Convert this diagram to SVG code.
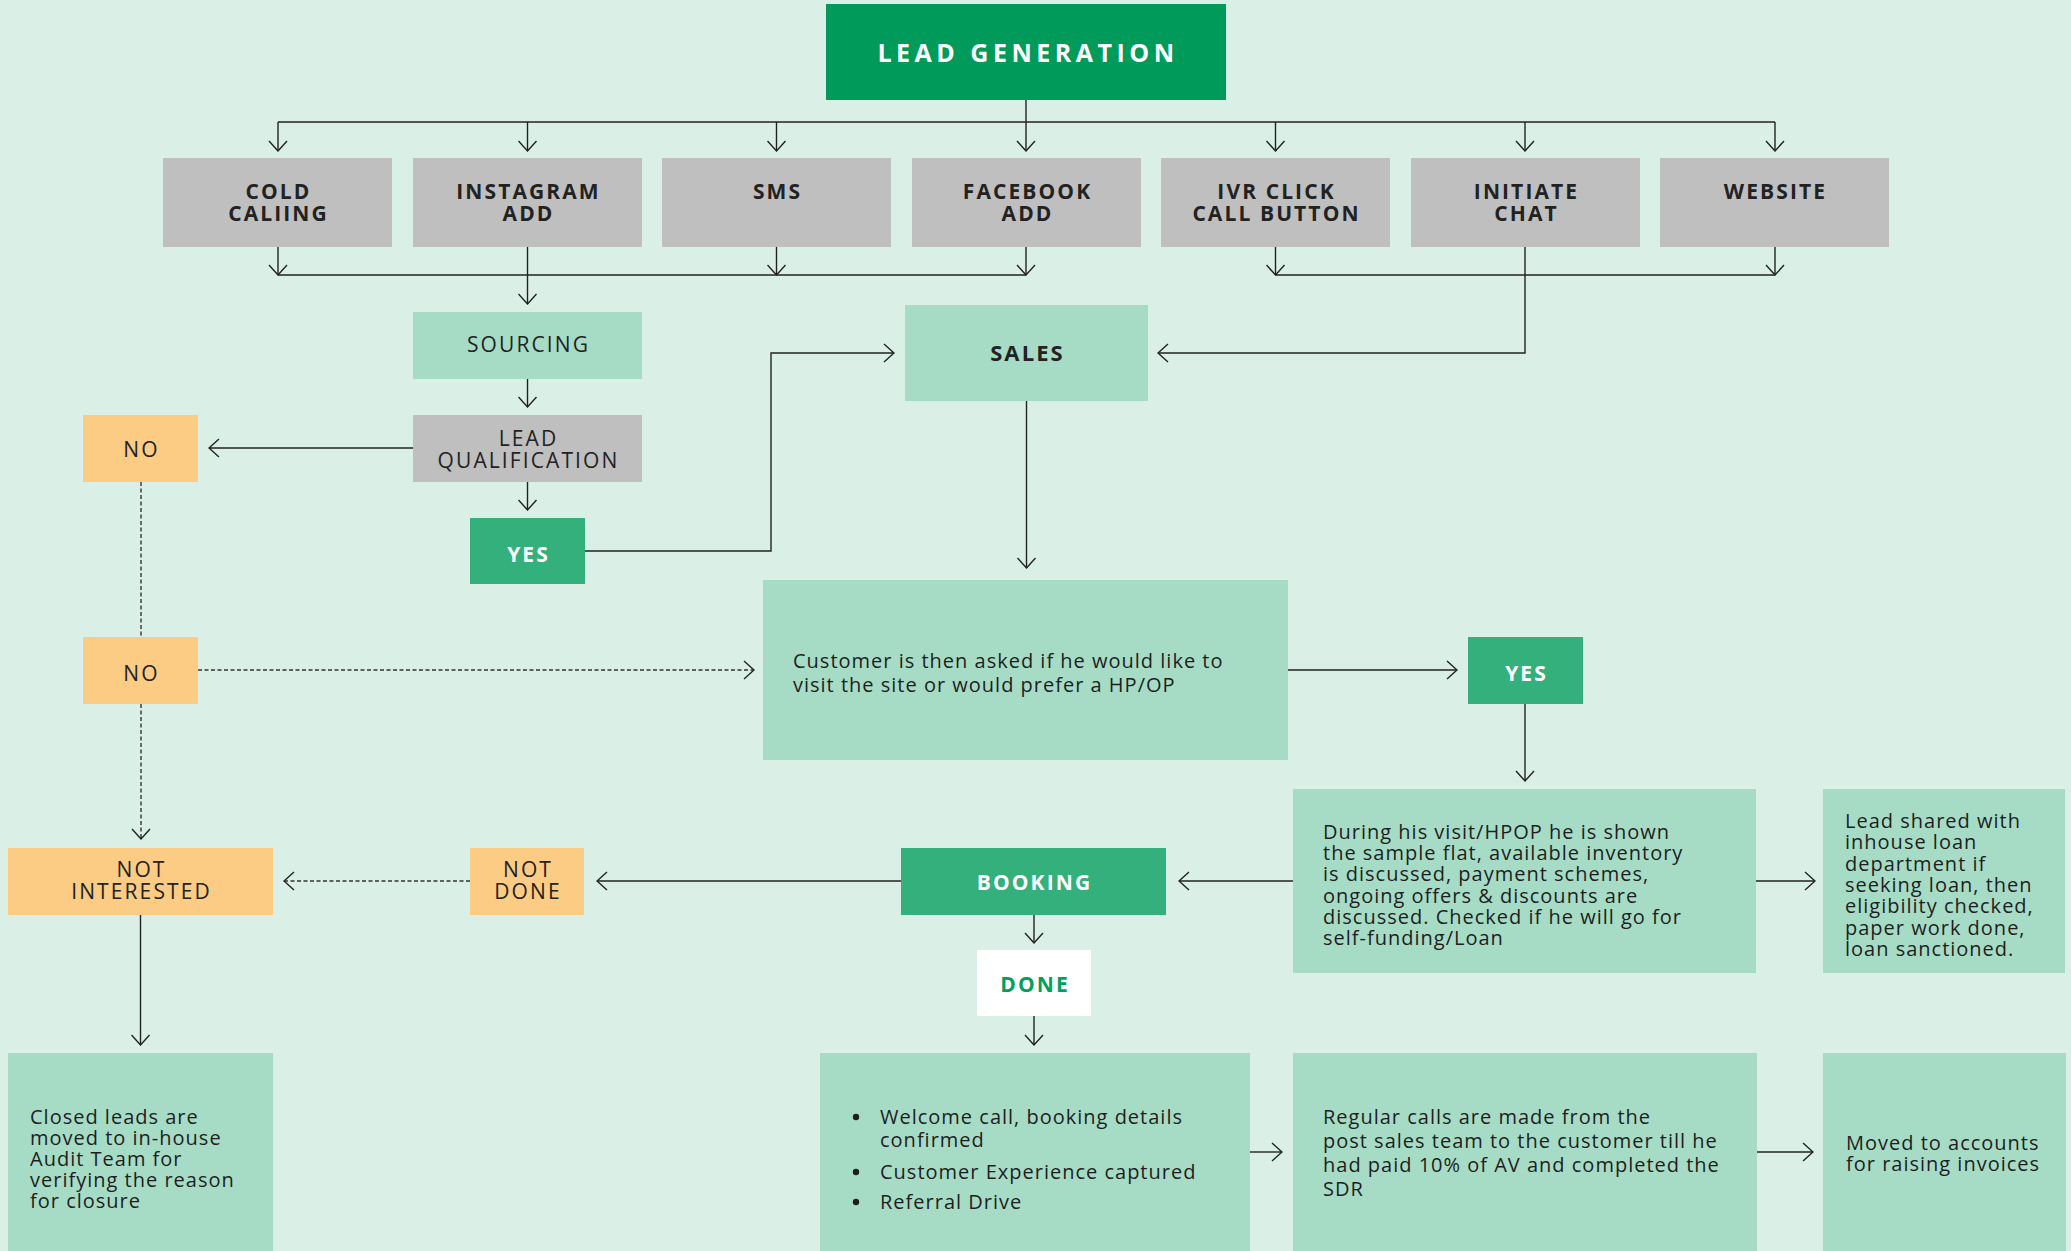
<svg xmlns="http://www.w3.org/2000/svg" width="2071" height="1251" viewBox="0 0 2071 1251">
<defs>
<style>
.bg{fill:#daf0e6}
.gray{fill:#bfbfbf}
.mint{fill:#a6dcc6}
.orange{fill:#fccb84}
.green{fill:#34b07c}
.dark{fill:#009b5a}
.white{fill:#ffffff}
.lbl{font-family:"Open Sans","Liberation Sans",sans-serif;font-size:21px;font-weight:700;letter-spacing:2.1px;fill:#222;text-anchor:middle}
.lt{font-family:"Open Sans","Liberation Sans",sans-serif;font-size:21px;font-weight:400;letter-spacing:2.1px;fill:#222;text-anchor:middle}
.wl{font-family:"Open Sans","Liberation Sans",sans-serif;font-size:21px;font-weight:700;letter-spacing:2.1px;fill:#fff;text-anchor:middle}
.body{font-family:"Open Sans","Liberation Sans",sans-serif;font-size:20px;font-weight:400;letter-spacing:1px;fill:#1e1e1e}
.ln{fill:none;stroke:#222;stroke-width:1.4}
.ds{fill:none;stroke:#333;stroke-width:1.4;stroke-dasharray:4 2.5}
</style>
<marker id="ah" viewBox="-1 -10 12 20" refX="10" refY="0" markerWidth="12" markerHeight="20" markerUnits="userSpaceOnUse" orient="auto">
<path d="M0,-9 L10,0 L0,9" fill="none" stroke="#222" stroke-width="1.4"/>
</marker>
</defs>
<rect class="bg" x="0" y="0" width="2071" height="1251"/>

<g id="connectors">
<path class="ln" d="M1026,100 V122"/>
<path class="ln" d="M278,122 H1775"/>
<path class="ln" marker-end="url(#ah)" d="M278,122 V151"/>
<path class="ln" marker-end="url(#ah)" d="M527.5,122 V151"/>
<path class="ln" marker-end="url(#ah)" d="M776.5,122 V151"/>
<path class="ln" marker-end="url(#ah)" d="M1026,122 V151"/>
<path class="ln" marker-end="url(#ah)" d="M1275.5,122 V151"/>
<path class="ln" marker-end="url(#ah)" d="M1525,122 V151"/>
<path class="ln" marker-end="url(#ah)" d="M1775,122 V151"/>
<path class="ln" marker-end="url(#ah)" d="M278,247 V275"/>
<path class="ln" marker-end="url(#ah)" d="M776.5,247 V275"/>
<path class="ln" marker-end="url(#ah)" d="M1026,247 V275"/>
<path class="ln" d="M278,275 H1026"/>
<path class="ln" marker-end="url(#ah)" d="M527.5,247 V304"/>
<path class="ln" marker-end="url(#ah)" d="M1275.5,247 V275"/>
<path class="ln" marker-end="url(#ah)" d="M1775,247 V275"/>
<path class="ln" d="M1275.5,275 H1775"/>
<path class="ln" marker-end="url(#ah)" d="M1525,247 V353 H1158"/>
<path class="ln" marker-end="url(#ah)" d="M527.5,379 V407"/>
<path class="ln" marker-end="url(#ah)" d="M413,448 H209"/>
<path class="ln" marker-end="url(#ah)" d="M527.5,482 V510"/>
<path class="ln" marker-end="url(#ah)" d="M585,551 H771 V353 H894"/>
<path class="ln" marker-end="url(#ah)" d="M1026.5,401 V568"/>
<path class="ds" d="M141,482 V637"/>
<path class="ds" marker-end="url(#ah)" d="M198,670 H754"/>
<path class="ds" marker-end="url(#ah)" d="M141,704 V839"/>
<path class="ln" marker-end="url(#ah)" d="M1288,670 H1457"/>
<path class="ln" marker-end="url(#ah)" d="M1525,704 V781"/>
<path class="ln" marker-end="url(#ah)" d="M1756,881 H1815"/>
<path class="ln" marker-end="url(#ah)" d="M1293,881 H1179"/>
<path class="ln" marker-end="url(#ah)" d="M901,881 H597"/>
<path class="ds" marker-end="url(#ah)" d="M470,881 H284"/>
<path class="ln" marker-end="url(#ah)" d="M1034,915 V943"/>
<path class="ln" marker-end="url(#ah)" d="M1034,1016 V1045"/>
<path class="ln" marker-end="url(#ah)" d="M140.5,915 V1045"/>
<path class="ln" marker-end="url(#ah)" d="M1250,1152 H1282"/>
<path class="ln" marker-end="url(#ah)" d="M1757,1152 H1813"/>
</g>

<g id="lead-generation"><rect class="dark" x="826" y="4" width="400" height="96"/><text class="wl" x="1028" y="62" style="font-size:25px;letter-spacing:4.5px">LEAD GENERATION</text></g>
<g id="cold-calling"><rect class="gray" x="163" y="158" width="229" height="89"/><text class="lbl" x="278.5" y="199">COLD</text><text class="lbl" x="278.5" y="221">CALIING</text></g>
<g id="instagram-add"><rect class="gray" x="413" y="158" width="229" height="89"/><text class="lbl" x="528.5" y="199">INSTAGRAM</text><text class="lbl" x="528.5" y="221">ADD</text></g>
<g id="sms"><rect class="gray" x="662" y="158" width="229" height="89"/><text class="lbl" x="777.5" y="199">SMS</text></g>
<g id="facebook-add"><rect class="gray" x="912" y="158" width="229" height="89"/><text class="lbl" x="1027.5" y="199">FACEBOOK</text><text class="lbl" x="1027.5" y="221">ADD</text></g>
<g id="ivr-click"><rect class="gray" x="1161" y="158" width="229" height="89"/><text class="lbl" x="1276.5" y="199">IVR CLICK</text><text class="lbl" x="1276.5" y="221">CALL BUTTON</text></g>
<g id="initiate-chat"><rect class="gray" x="1411" y="158" width="229" height="89"/><text class="lbl" x="1526.5" y="199">INITIATE</text><text class="lbl" x="1526.5" y="221">CHAT</text></g>
<g id="website"><rect class="gray" x="1660" y="158" width="229" height="89"/><text class="lbl" x="1775.5" y="199">WEBSITE</text></g>

<g id="sourcing"><rect class="mint" x="413" y="312" width="229" height="67"/><text class="lt" x="528.5" y="352">SOURCING</text></g>
<g id="sales"><rect class="mint" x="905" y="305" width="243" height="96"/><text class="lbl" x="1027.5" y="361" style="font-size:22px">SALES</text></g>
<g id="lead-qualification"><rect class="gray" x="413" y="415" width="229" height="67"/><text class="lt" x="528.5" y="446">LEAD</text><text class="lt" x="528.5" y="468">QUALIFICATION</text></g>
<g id="no-1"><rect class="orange" x="83" y="415" width="115" height="67"/><text class="lt" x="141.5" y="457">NO</text></g>
<g id="yes-1"><rect class="green" x="470" y="518" width="115" height="66"/><text class="wl" x="528.5" y="562">YES</text></g>
<g id="no-2"><rect class="orange" x="83" y="637" width="115" height="67"/><text class="lt" x="141.5" y="681">NO</text></g>
<g id="customer-asked"><rect class="mint" x="763" y="580" width="525" height="180"/><text class="body" x="793" y="668">Customer is then asked if he would like to</text><text class="body" x="793" y="692">visit the site or would prefer a HP/OP</text></g>
<g id="yes-2"><rect class="green" x="1468" y="637" width="115" height="67"/><text class="wl" x="1526.5" y="681">YES</text></g>
<g id="site-visit"><rect class="mint" x="1293" y="789" width="463" height="184"/>
<text class="body" x="1323" y="839">During his visit/HPOP he is shown</text>
<text class="body" x="1323" y="860">the sample flat, available inventory</text>
<text class="body" x="1323" y="881">is discussed, payment schemes,</text>
<text class="body" x="1323" y="903">ongoing offers &amp; discounts are</text>
<text class="body" x="1323" y="924">discussed. Checked if he will go for</text>
<text class="body" x="1323" y="945">self-funding/Loan</text></g>
<g id="loan"><rect class="mint" x="1823" y="789" width="242" height="184"/>
<text class="body" x="1845" y="828">Lead shared with</text>
<text class="body" x="1845" y="849">inhouse loan</text>
<text class="body" x="1845" y="871">department if</text>
<text class="body" x="1845" y="892">seeking loan, then</text>
<text class="body" x="1845" y="913">eligibility checked,</text>
<text class="body" x="1845" y="935">paper work done,</text>
<text class="body" x="1845" y="956">loan sanctioned.</text></g>
<g id="booking"><rect class="green" x="901" y="848" width="265" height="67"/><text class="wl" x="1034.5" y="890">BOOKING</text></g>
<g id="not-done"><rect class="orange" x="470" y="848" width="114" height="67"/><text class="lt" x="528" y="877">NOT</text><text class="lt" x="528" y="899">DONE</text></g>
<g id="not-interested"><rect class="orange" x="8" y="848" width="265" height="67"/><text class="lt" x="141.5" y="877">NOT</text><text class="lt" x="141.5" y="899">INTERESTED</text></g>
<g id="done"><rect class="white" x="977" y="950" width="114" height="66"/><text class="lbl" x="1035" y="992" style="fill:#00a05e">DONE</text></g>
<g id="closed-leads"><rect class="mint" x="8" y="1053" width="265" height="198"/>
<text class="body" x="30" y="1124">Closed leads are</text>
<text class="body" x="30" y="1145">moved to in-house</text>
<text class="body" x="30" y="1166">Audit Team for</text>
<text class="body" x="30" y="1187">verifying the reason</text>
<text class="body" x="30" y="1208">for closure</text></g>
<g id="post-booking"><rect class="mint" x="820" y="1053" width="430" height="198"/>
<circle cx="856" cy="1117" r="3.2" fill="#1e1e1e"/><text class="body" x="880" y="1124">Welcome call, booking details</text>
<text class="body" x="880" y="1147">confirmed</text>
<circle cx="856" cy="1172" r="3.2" fill="#1e1e1e"/><text class="body" x="880" y="1179">Customer Experience captured</text>
<circle cx="856" cy="1202" r="3.2" fill="#1e1e1e"/><text class="body" x="880" y="1209">Referral Drive</text></g>
<g id="regular-calls"><rect class="mint" x="1293" y="1053" width="464" height="198"/>
<text class="body" x="1323" y="1124">Regular calls are made from the</text>
<text class="body" x="1323" y="1148">post sales team to the customer till he</text>
<text class="body" x="1323" y="1172">had paid 10% of AV and completed the</text>
<text class="body" x="1323" y="1196">SDR</text></g>
<g id="accounts"><rect class="mint" x="1823" y="1053" width="243" height="198"/>
<text class="body" x="1846" y="1150">Moved to accounts</text>
<text class="body" x="1846" y="1171">for raising invoices</text></g>
</svg>
